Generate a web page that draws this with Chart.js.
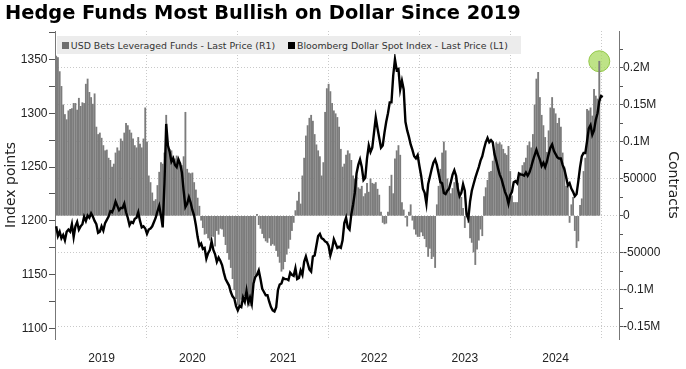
<!DOCTYPE html>
<html>
<head>
<meta charset="utf-8">
<script src="https://cdn.jsdelivr.net/npm/chart.js@4.4.1/dist/chart.umd.min.js"></script>
<style>
  body { margin: 0; background: #fff; }
  #wrap { position: relative; width: 686px; height: 369px; }
  #title { position: absolute; left: 5px; top: 2px; font: bold 19.4px/22px "DejaVu Sans", sans-serif; color: #000; white-space: nowrap; }
  #legend { position: absolute; left: 57px; top: 36px; width: 464px; height: 18px; background: #ececec;
            font: 9.4px "DejaVu Sans", sans-serif; color: #333; display: flex; align-items: center;
            padding-left: 5px; box-sizing: border-box; white-space: nowrap; }
  #legend i { display: inline-block; width: 7px; height: 7px; margin-right: 2px; }
  #legend span { margin-right: 13px; }
</style>
</head>
<body>
<div id="wrap">
  <canvas id="chart" width="686" height="369"></canvas>
  <div id="title">Hedge Funds Most Bullish on Dollar Since 2019</div>
  <div id="legend">
    <i style="background:#6e6e6e"></i><span>USD Bets Leveraged Funds - Last Price (R1)</span>
    <i style="background:#000"></i><span>Bloomberg Dollar Spot Index - Last Price (L1)</span>
  </div>
</div>
<script>
// weekly data, one array per year
const years = [2019, 2020, 2021, 2022, 2023, 2024]
const yearLabels = ['2019', '2020', '2021', '2022', '2023', '2024']

// USD bets, leveraged funds (thousands of contracts)
const usd2019 = [216,214,195,175,150,137,130,142,144,145,152,152,143,159,148,153,152,178,185,167,160,151,165,120,110,112,105,95,88,89,78,75,66,70,85,92,88,104,101,112,125,122,116,112,104,95,92,106,97,92,104,146]
const usd2020 = [100,54,45,31,20,22,41,59,72,70,85,136,95,90,88,81,77,81,77,72,68,80,140,63,58,57,58,45,35,24,13,-6,-16,-25,-24,-30,-33,-27,-28,-41,-20,-25,-17,-18,-28,-39,-50,-59,-70,-85,-100,-112]
const usd2021 = [-120,-122,-113,-110,-108,-100,-110,-122,-110,-88,-80,2,-12,-17,-24,-30,-34,-36,-30,-40,-38,-40,-47,-55,-63,-75,-72,-62,-52,-44,-32,-20,-9,7,20,32,16,54,78,108,122,132,136,128,110,96,88,80,54,72,140,172]
const usd2022 = [178,168,152,142,138,133,120,90,66,70,82,88,84,75,54,50,52,38,36,40,26,30,44,32,50,44,43,45,36,28,5,-9,-11,-10,5,40,55,30,77,88,95,82,18,8,-2,-14,5,15,-6,-18,-25,-28]
const usd2023 = [-28,-22,-27,-31,-42,-55,-44,-58,-55,-70,15,40,63,85,100,88,50,36,30,37,45,53,44,32,25,10,-16,0,-9,-30,-36,-49,-66,-45,-33,-18,-27,26,38,48,59,60,74,88,99,97,99,96,90,84,82,94]
const usd2024 = [60,27,18,18,18,54,58,68,72,78,95,100,92,110,150,185,194,160,136,122,106,86,115,146,160,145,138,125,132,120,85,66,40,42,-9,15,25,-20,-43,-34,14,23,60,78,144,142,146,135,171,162,158,209]

// Bloomberg Dollar Spot Index (index points)
const idx2019 = [1195,1186,1190,1184,1187,1182,1190,1192,1190,1197,1185,1195,1199,1192,1195,1197,1204,1200,1205,1203,1207,1204,1200,1197,1189,1190,1195,1191,1198,1201,1204,1209,1208,1212,1218,1214,1210,1212,1212,1216,1208,1203,1196,1199,1198,1202,1203,1208,1200,1194,1195,1193]
const idx2020 = [1188,1192,1193,1195,1199,1203,1209,1214,1205,1194,1235,1290,1270,1264,1255,1258,1252,1250,1257,1253,1245,1228,1213,1216,1222,1217,1210,1205,1196,1185,1177,1179,1174,1175,1165,1170,1173,1181,1173,1169,1162,1166,1163,1159,1152,1146,1143,1140,1134,1130,1128,1121]
const idx2021 = [1117,1121,1120,1129,1125,1135,1124,1129,1123,1142,1148,1150,1154,1146,1137,1134,1131,1131,1125,1120,1117,1116,1120,1136,1141,1142,1147,1146,1146,1145,1152,1150,1149,1156,1146,1147,1154,1150,1162,1167,1161,1155,1153,1167,1168,1177,1186,1188,1184,1183,1181,1180]
const idx2022 = [1177,1168,1174,1183,1179,1175,1176,1175,1182,1198,1203,1194,1192,1206,1215,1226,1244,1252,1257,1250,1238,1240,1258,1270,1264,1268,1282,1296,1286,1277,1268,1270,1282,1292,1300,1310,1310,1335,1350,1340,1341,1322,1330,1322,1292,1284,1278,1271,1266,1260,1258,1261]
const idx2023 = [1251,1242,1230,1226,1216,1234,1241,1248,1254,1257,1252,1244,1236,1235,1226,1225,1228,1230,1236,1243,1247,1242,1230,1223,1226,1234,1228,1206,1202,1218,1228,1234,1240,1245,1250,1256,1260,1267,1273,1277,1273,1275,1273,1262,1256,1249,1243,1239,1233,1227,1223,1216]
const idx2024 = [1224,1227,1236,1237,1235,1244,1243,1243,1242,1245,1242,1245,1250,1256,1261,1266,1261,1257,1251,1254,1250,1255,1262,1268,1271,1265,1262,1259,1258,1258,1252,1248,1241,1233,1235,1230,1227,1223,1225,1237,1250,1260,1263,1263,1274,1286,1289,1280,1284,1294,1300,1311]
const idx2025 = [1316,1315]

const usdByYear = [usd2019, usd2020, usd2021, usd2022, usd2023, usd2024]
const idxByYear = [idx2019, idx2020, idx2021, idx2022, idx2023, idx2024, idx2025]

// axis ticks (majors get labels, the ones between are minor)
const leftTicks = [1100, 1125, 1150, 1175, 1200, 1225, 1250, 1275, 1300, 1325, 1350, 1375]
const rightTicks = [-150000, -125000, -100000, -75000, -50000, -25000, 0, 25000, 50000, 75000, 100000, 125000, 150000, 175000, 200000, 225000]
const rightLabels = { '200000': '0.2M', '150000': '0.15M', '100000': '0.1M', '50000': '50000', '0': '0',
  '-50000': '-50000', '-100000': '-0.1M', '-150000': '-0.15M' }

const weekly = (year, values, scale) => values.map((v, i) => ({ x: year + i / 52, y: v * scale }))

const barPoints = []
usdByYear.forEach((vals, k) => barPoints.push(...weekly(years[k], vals, 1000)))
const linePoints = []
idxByYear.forEach((vals, k) => linePoints.push(...weekly(2019 + k, vals, 1)))
const lastBar = barPoints[barPoints.length - 1]

const tickFont = { family: 'Liberation Sans', size: 12 }
const titleFont = { family: 'DejaVu Sans', size: 14 }
const gridColor = '#c9c9c9'
const clear = 'rgba(0,0,0,0)'

// year boundaries get grid lines, mid-years get the labels
const xTicks = []
years.forEach(y => { xTicks.push(y + 0.5); xTicks.push(y + 1) })

const setTicks = values => s => { s.ticks = values.map(v => ({ value: v })) }

new Chart(document.querySelector('#chart').getContext('2d'), {
    type: 'bar',
    data: {
        datasets: [
            {
                type: 'line',
                label: 'Bloomberg Dollar Spot Index - Last Price (L1)',
                data: linePoints,
                yAxisID: 'yL',
                borderColor: '#000',
                borderWidth: 2.4,
                pointRadius: 0,
                tension: 0,
                order: 1
            },
            {
                label: 'USD Bets Leveraged Funds - Last Price (R1)',
                data: barPoints,
                yAxisID: 'yR',
                backgroundColor: '#7c7c7c',
                barThickness: 1.2,
                order: 2
            },
            {
                type: 'scatter',
                label: 'highlight',
                data: [lastBar],
                yAxisID: 'yR',
                pointRadius: 10.5,
                backgroundColor: 'rgba(168, 218, 95, 0.75)',
                borderColor: 'rgba(140, 195, 60, 0.9)',
                borderWidth: 1,
                order: 3
            }
        ]
    },
    options: {
        responsive: false,
        animation: false,
        layout: { padding: { top: 31 } },
        plugins: {
            legend: { display: false },
            tooltip: { enabled: false },
            title: { display: false }
        },
        scales: {
            x: {
                type: 'linear',
                min: 2018.987,
                max: 2025.198,
                offset: false,
                afterBuildTicks: setTicks(xTicks),
                afterFit: s => { s.height = 30 },
                ticks: {
                    autoSkip: false,
                    maxRotation: 0,
                    padding: 12,
                    font: tickFont,
                    color: '#222',
                    callback: v => Number.isInteger(v) ? '' : yearLabels[Math.floor(v) - 2019]
                },
                grid: {
                    offset: false,
                    drawTicks: false,
                    color: c => (c.tick && Number.isInteger(c.tick.value)) ? gridColor : clear
                },
                border: { display: false, dash: [1, 2] }
            },
            yL: {
                position: 'left',
                min: 1090.4,
                max: 1376.3,
                afterBuildTicks: setTicks(leftTicks),
                afterFit: s => { s.width = 55 },
                ticks: {
                    autoSkip: false,
                    padding: 1.5,
                    font: tickFont,
                    color: '#222',
                    callback: v => v % 50 === 0 ? String(v) : ''
                },
                grid: { drawOnChartArea: false, tickLength: 6, tickColor: '#555' },
                border: { color: '#777' },
                title: { display: true, text: 'Index points', font: titleFont, color: '#222', padding: { top: 3, bottom: 0 } }
            },
            yR: {
                position: 'right',
                min: -166600,
                max: 249900,
                afterBuildTicks: setTicks(rightTicks),
                afterFit: s => { s.width = 67 },
                ticks: {
                    autoSkip: false,
                    padding: 0,
                    font: tickFont,
                    color: '#222',
                    callback: v => rightLabels[String(v)] || ''
                },
                grid: {
                    color: c => (c.tick && c.tick.value % 50000 === 0) ? gridColor : clear,
                    tickLength: 4,
                    tickColor: '#555'
                },
                border: { color: '#777', dash: [1, 2] },
                title: { display: true, text: 'Contracts', font: titleFont, color: '#222', padding: { top: 5, bottom: 0 } }
            }
        }
    }
})
</script>
</body>
</html>
